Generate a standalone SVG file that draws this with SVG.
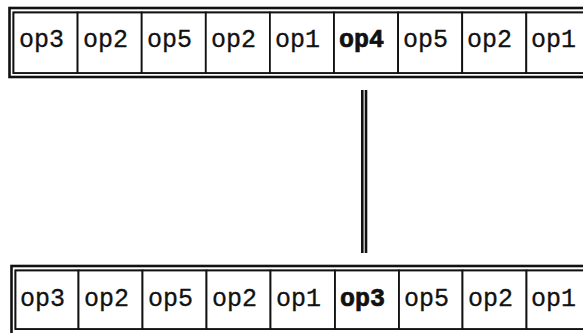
<svg xmlns="http://www.w3.org/2000/svg" width="583" height="333" viewBox="0 0 583 333">
<style>
.outer{fill:none;stroke:#111;stroke-width:2.6}
.inner{fill:#fff;stroke:#111;stroke-width:1.8}
.cell{fill:#fff;stroke:#111;stroke-width:1.8}
.t{font-family:"Courier New","Liberation Mono",monospace;font-size:25px;fill:#111;stroke:#111;stroke-width:0.3}
.b{font-weight:bold;stroke-width:0.7}
.conn{stroke:#111;stroke-width:2.6;fill:none}
</style>
<rect width="583" height="333" fill="#fff"/>
<g id="top-sequence">
<rect class="outer" x="9.5" y="8" width="600" height="69"/>
<rect class="inner" x="13.5" y="12.5" width="596" height="60.5"/>
<g id="t1"><rect class="cell" x="13.5" y="12.5" width="64.1" height="60.5"/><text class="t" x="19" y="47">op3</text></g>
<g id="t2"><rect class="cell" x="77.6" y="12.5" width="64.1" height="60.5"/><text class="t" x="83" y="47">op2</text></g>
<g id="t3"><rect class="cell" x="141.7" y="12.5" width="64.1" height="60.5"/><text class="t" x="147" y="47">op5</text></g>
<g id="t4"><rect class="cell" x="205.8" y="12.5" width="64.1" height="60.5"/><text class="t" x="211" y="47">op2</text></g>
<g id="t5"><rect class="cell" x="269.9" y="12.5" width="64.1" height="60.5"/><text class="t" x="275" y="47">op1</text></g>
<g id="t6"><rect class="cell" x="334" y="12.5" width="64.1" height="60.5"/><text class="t b" x="339" y="47">op4</text></g>
<g id="t7"><rect class="cell" x="398.1" y="12.5" width="64.1" height="60.5"/><text class="t" x="403" y="47">op5</text></g>
<g id="t8"><rect class="cell" x="462.2" y="12.5" width="64.1" height="60.5"/><text class="t" x="467" y="47">op2</text></g>
<g id="t9"><rect class="cell" x="526.3" y="12.5" width="64.1" height="60.5"/><text class="t" x="531" y="47">op1</text></g>
</g>
<g id="connectors">
<line class="conn" x1="362.3" y1="90" x2="362.3" y2="253"/>
<line class="conn" x1="366" y1="90" x2="366" y2="253"/>
</g>
<g id="bottom-sequence">
<rect class="outer" x="11.5" y="266" width="600" height="70"/>
<rect class="inner" x="15.5" y="270.5" width="596" height="58.5"/>
<g id="b1"><rect class="cell" x="15.5" y="270.5" width="63" height="58.5"/><text class="t" x="20" y="306">op3</text></g>
<g id="b2"><rect class="cell" x="78.5" y="270.5" width="64" height="58.5"/><text class="t" x="84" y="306">op2</text></g>
<g id="b3"><rect class="cell" x="142.5" y="270.5" width="64" height="58.5"/><text class="t" x="148" y="306">op5</text></g>
<g id="b4"><rect class="cell" x="206.5" y="270.5" width="64" height="58.5"/><text class="t" x="212" y="306">op2</text></g>
<g id="b5"><rect class="cell" x="270.5" y="270.5" width="64.5" height="58.5"/><text class="t" x="276" y="306">op1</text></g>
<g id="b6"><rect class="cell" x="335" y="270.5" width="64" height="58.5"/><text class="t b" x="340" y="306">op3</text></g>
<g id="b7"><rect class="cell" x="399" y="270.5" width="63.5" height="58.5"/><text class="t" x="404" y="306">op5</text></g>
<g id="b8"><rect class="cell" x="462.5" y="270.5" width="64" height="58.5"/><text class="t" x="468" y="306">op2</text></g>
<g id="b9"><rect class="cell" x="526.5" y="270.5" width="64" height="58.5"/><text class="t" x="531" y="306">op1</text></g>
</g>
</svg>
